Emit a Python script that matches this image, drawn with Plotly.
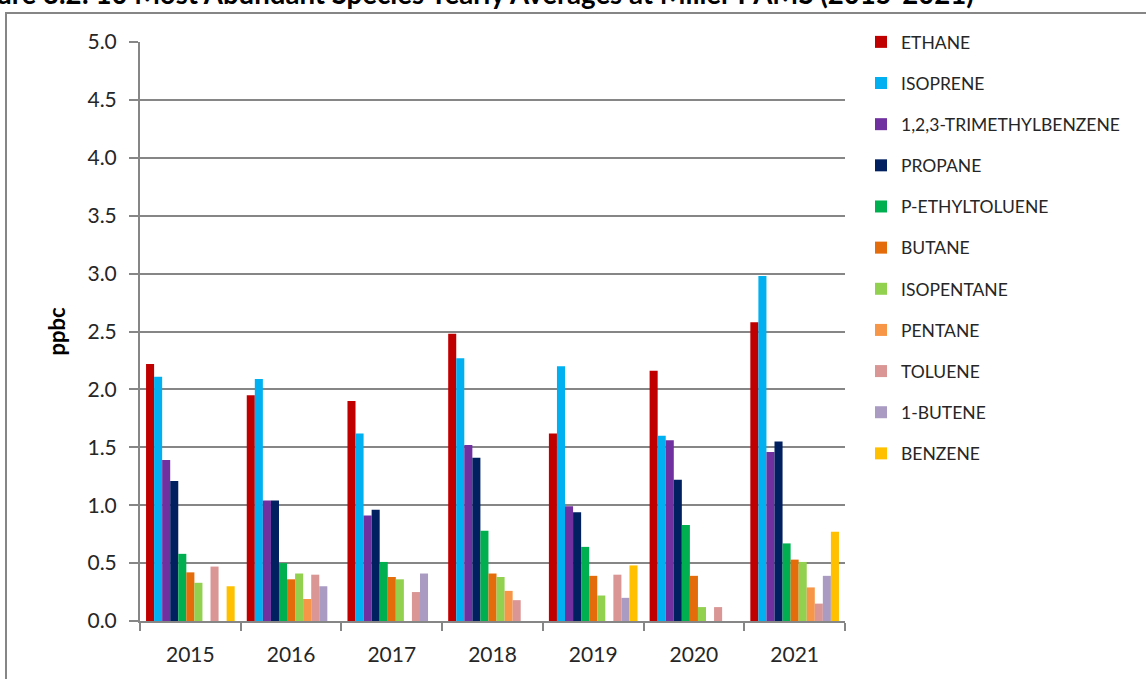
import plotly.graph_objects as go

years = ["2015", "2016", "2017", "2018", "2019", "2020", "2021"]
species = ["ETHANE", "ISOPRENE", "1,2,3-TRIMETHYLBENZENE", "PROPANE", "P-ETHYLTOLUENE",
           "BUTANE", "ISOPENTANE", "PENTANE", "TOLUENE", "1-BUTENE", "BENZENE"]

ethane = [2.22, 1.95, 1.90, 2.48, 1.62, 2.16, 2.58]
isoprene = [2.11, 2.09, 1.62, 2.27, 2.20, 1.60, 2.98]
trimethylbenzene = [1.39, 1.04, 0.91, 1.52, 0.99, 1.56, 1.46]
propane = [1.21, 1.04, 0.96, 1.41, 0.94, 1.22, 1.55]
p_ethyltoluene = [0.58, 0.50, 0.51, 0.78, 0.64, 0.83, 0.67]
butane = [0.42, 0.36, 0.38, 0.41, 0.39, 0.39, 0.53]
isopentane = [0.33, 0.41, 0.36, 0.38, 0.22, 0.12, 0.51]
pentane = [None, 0.19, None, 0.26, None, None, 0.29]
toluene = [0.47, 0.40, 0.25, 0.18, 0.40, 0.12, 0.15]
butene_1 = [None, 0.30, 0.41, None, 0.20, None, 0.39]
benzene = [0.30, None, None, None, 0.48, None, 0.77]

series = [ethane, isoprene, trimethylbenzene, propane, p_ethyltoluene, butane,
          isopentane, pentane, toluene, butene_1, benzene]
colors = ["#C00000", "#00B0F0", "#7030A0", "#002060", "#00B050", "#E46C0A",
          "#92D050", "#F79646", "#D99694", "#A99BC2", "#FFC000"]

title_text = "Figure 3.2: 10 Most Abundant Species Yearly Averages at Miller PAMS (2015-2021)"

W, H = 1146, 679
L, R, T, B = 140, 845, 42, 621


def px(x):
    return (x - L) / (R - L)


def py(y):
    return (B - y) / (B - T)


fig = go.Figure()
for name, vals, col in zip(species, series, colors):
    fig.add_trace(go.Bar(name=name, x=years, y=vals, marker_color=col,
                         marker_line_width=0, legendgroup=name))

grid = "#868686"
font = "Lato, 'Open Sans', sans-serif"

fig.update_layout(
    width=W, height=H,
    margin=dict(l=L, r=W - R, t=T, b=H - B, pad=0),
    paper_bgcolor="white", plot_bgcolor="white",
    barmode="group", bargap=0.12, bargroupgap=0,
    font=dict(family=font, color="#262626"),
    showlegend=True,
    legend=dict(x=px(861), y=py(24), xanchor="left", yanchor="top",
                font=dict(size=17.5, color="#262626", family=font),
                tracegroupgap=15.4, itemwidth=30, bgcolor="rgba(0,0,0,0)",
                maxheight=679),
    xaxis=dict(showline=True, linecolor=grid, linewidth=2, ticks="outside",
               tickson="boundaries", ticklen=8, tickcolor=grid, tickwidth=2,
               ticklabelstandoff=14,
               tickfont=dict(size=21, color="#262626"), showgrid=False),
    yaxis=dict(range=[0, 5], dtick=0.5, tickformat=".1f", showline=True,
               linecolor=grid, linewidth=2, ticks="outside", ticklen=9,
               tickcolor=grid, tickwidth=2, showgrid=True, gridcolor=grid,
               gridwidth=2, zeroline=False, ticklabelstandoff=8,
               tickfont=dict(size=21, color="#262626"),
               title=dict(text="<b>ppbc</b>", font=dict(size=22, color="#000"),
                          standoff=16)),
)

fig.add_annotation(text="<b>" + title_text + "</b>", xref="paper", yref="paper",
                   x=px(976), y=py(-7), xanchor="right", yanchor="middle",
                   showarrow=False, font=dict(size=27.6, color="#000", family=font))

# outer frame
fig.add_shape(type="line", xref="paper", yref="paper", x0=px(5), x1=px(1160),
              y0=py(13), y1=py(13), line=dict(color=grid, width=2))
fig.add_shape(type="line", xref="paper", yref="paper", x0=px(6), x1=px(6),
              y0=py(13), y1=py(700), line=dict(color=grid, width=2))

fig.write_html("out.html", config={"displayModeBar": False},
               post_script="document.body.style.margin='0';document.body.style.overflow='hidden';")
